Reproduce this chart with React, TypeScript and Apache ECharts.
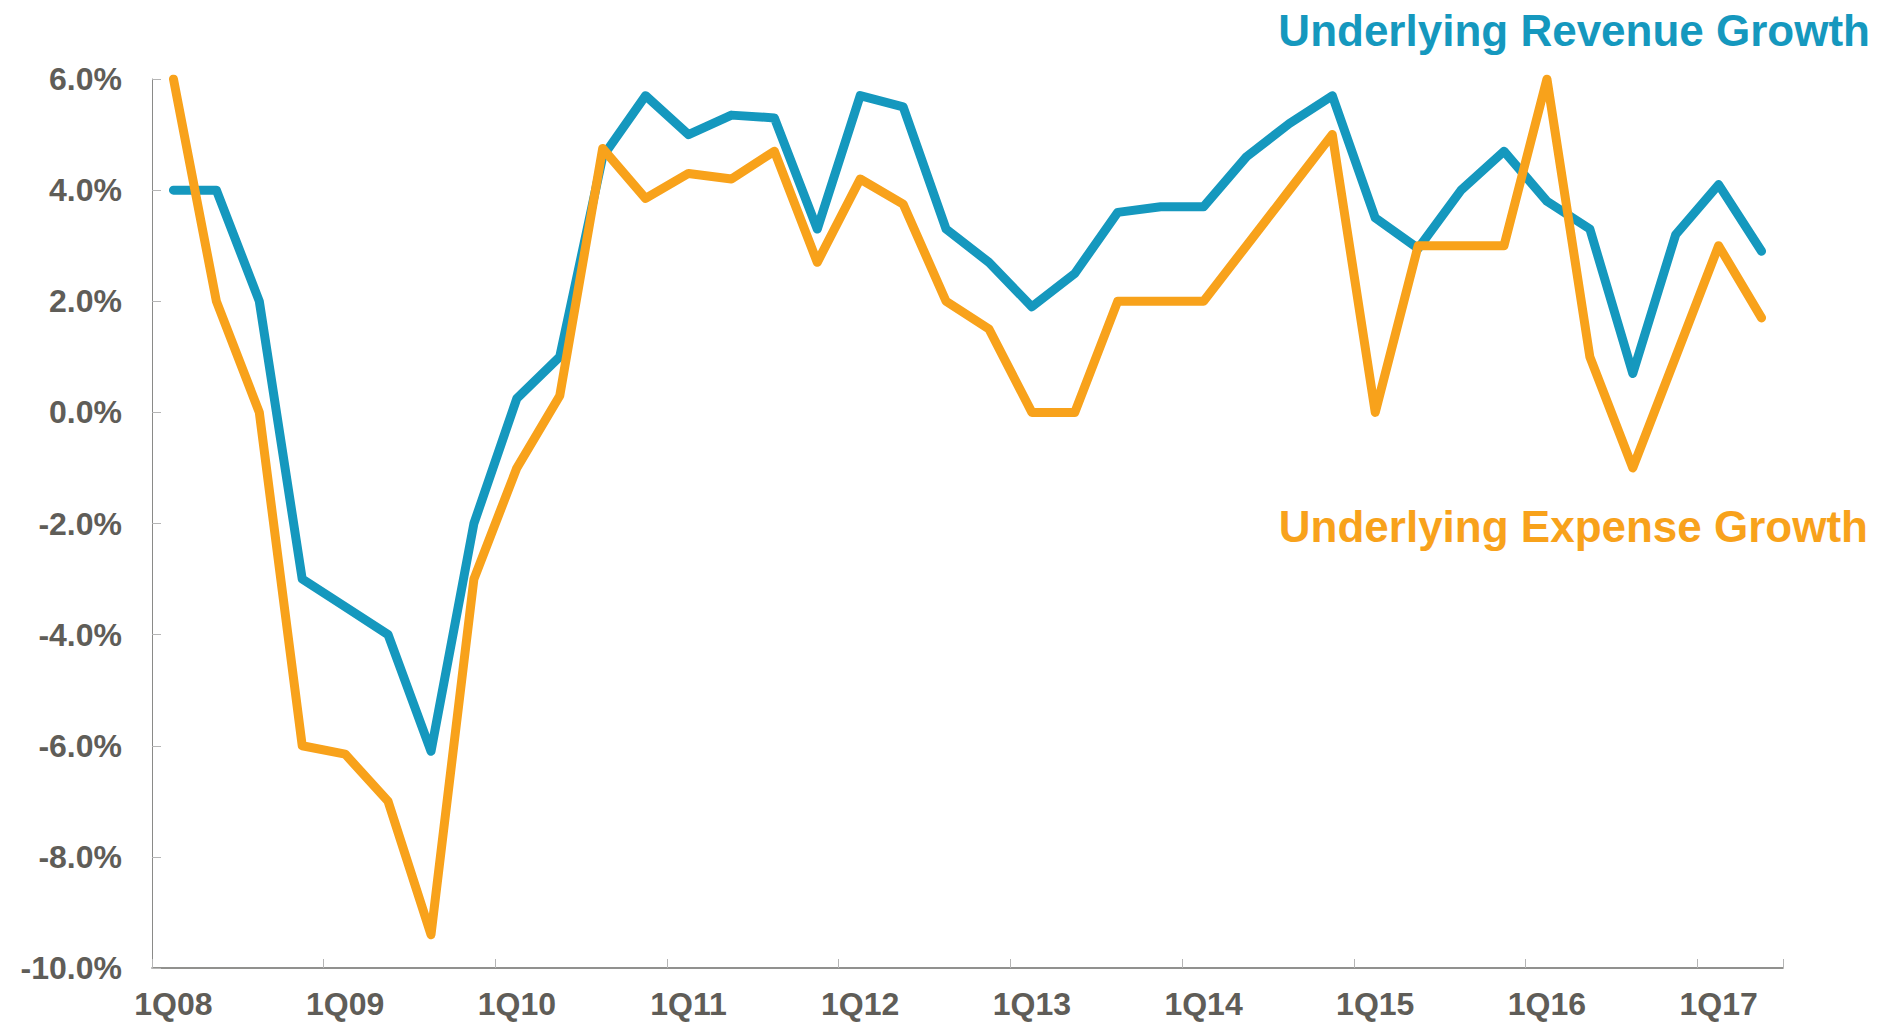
import React, { useEffect, useRef } from "react";
import * as echarts from "echarts";

const quarters: string[] = [
  "1Q08", "2Q08", "3Q08", "4Q08",
  "1Q09", "2Q09", "3Q09", "4Q09",
  "1Q10", "2Q10", "3Q10", "4Q10",
  "1Q11", "2Q11", "3Q11", "4Q11",
  "1Q12", "2Q12", "3Q12", "4Q12",
  "1Q13", "2Q13", "3Q13", "4Q13",
  "1Q14", "2Q14", "3Q14", "4Q14",
  "1Q15", "2Q15", "3Q15", "4Q15",
  "1Q16", "2Q16", "3Q16", "4Q16",
  "1Q17", "2Q17",
];

const revenueGrowth: number[] = [
  4.0, 4.0, 2.0, -3.0,
  -3.5, -4.0, -6.1, -2.0,
  0.25, 1.0, 4.6, 5.7,
  5.0, 5.35, 5.3, 3.3,
  5.7, 5.5, 3.3, 2.7,
  1.9, 2.5, 3.6, 3.7,
  3.7, 4.6, 5.2, 5.7,
  3.5, 2.95, 4.0, 4.7,
  3.8, 3.3, 0.7, 3.2,
  4.1, 2.9,
];

const expenseGrowth: number[] = [
  6.0, 2.0, 0.0, -6.0,
  -6.15, -7.0, -9.4, -3.0,
  -1.0, 0.3, 4.75, 3.85,
  4.3, 4.2, 4.7, 2.7,
  4.2, 3.75, 2.0, 1.5,
  0.0, 0.0, 2.0, 2.0,
  2.0, 3.0, 4.0, 5.0,
  0.0, 3.0, 3.0, 3.0,
  6.0, 1.0, -1.0, 1.0,
  3.0, 1.7,
];

const seriesNames: string[] = ["Underlying Revenue Growth", "Underlying Expense Growth"];

const BLUE = "#1598BE";
const ORANGE = "#F8A21B";
const LABEL_GRAY = "#5F5D58";
const FONT = "'Liberation Sans', Arial, sans-serif";

export default function App() {
  const ref = useRef<HTMLDivElement | null>(null);

  useEffect(() => {
    if (!ref.current) return;
    const chart = echarts.init(ref.current, undefined, { renderer: "svg" });
    chart.setOption({
      animation: false,
      backgroundColor: "#ffffff",
      grid: { left: 152, right: 115, top: 79, bottom: 59, containLabel: false },
      xAxis: {
        type: "category",
        data: quarters,
        boundaryGap: true,
        axisLine: { show: true, onZero: false, lineStyle: { color: "#6d6d6a", width: 1.5 } },
        axisTick: { show: true, inside: true, interval: 3, length: 9, lineStyle: { color: "#b5b5b5", width: 1 } },
        axisLabel: {
          interval: 3,
          margin: 20,
          color: LABEL_GRAY,
          fontFamily: FONT,
          fontWeight: "bold",
          fontSize: 32,
        },
        splitLine: { show: false },
      },
      yAxis: {
        type: "value",
        min: -10,
        max: 6,
        interval: 2,
        axisLine: { show: true, lineStyle: { color: "#8a8a88", width: 1 } },
        axisTick: { show: true, inside: true, length: 9, lineStyle: { color: "#b5b5b5", width: 1 } },
        axisLabel: {
          margin: 30,
          color: LABEL_GRAY,
          fontFamily: FONT,
          fontWeight: "bold",
          fontSize: 32,
          formatter: (v: number) => v.toFixed(1) + "%",
        },
        splitLine: { show: false },
      },
      series: [
        {
          name: seriesNames[0],
          type: "line",
          data: revenueGrowth,
          symbol: "none",
          clip: true,
          lineStyle: { color: BLUE, width: 9, join: "round", cap: "round" },
          z: 2,
        },
        {
          name: seriesNames[1],
          type: "line",
          data: expenseGrowth,
          symbol: "none",
          clip: true,
          lineStyle: { color: ORANGE, width: 9, join: "round", cap: "round" },
          z: 3,
        },
      ],
      graphic: [
        {
          type: "text",
          right: 28,
          top: 8,
          style: {
            text: seriesNames[0],
            fill: BLUE,
            font: `bold 44px ${FONT}`,
          },
        },
        {
          type: "text",
          right: 30,
          top: 504,
          style: {
            text: seriesNames[1],
            fill: ORANGE,
            font: `bold 44px ${FONT}`,
          },
        },
      ],
    });
    return () => chart.dispose();
  }, []);

  return (
    <div
      ref={ref}
      style={{ position: "fixed", left: 0, top: 0, width: 1898, height: 1027, background: "#fff" }}
    />
  );
}
